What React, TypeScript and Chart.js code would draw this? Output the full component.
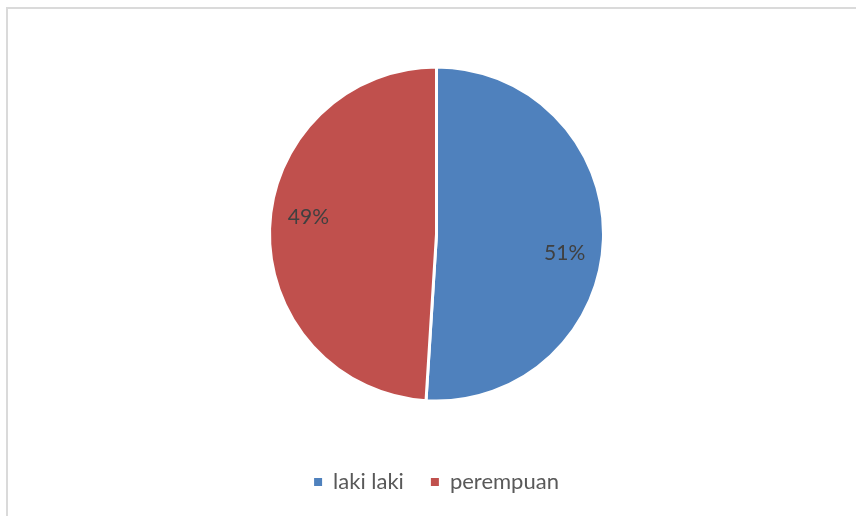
import React, { useEffect, useRef } from "react";
import { Chart, registerables } from "chart.js";

Chart.register(...registerables);

const categories = ["laki laki", "perempuan"];
const values = [51, 49];
const sliceColors = ["#4F81BD", "#C0504D"];

export default function App() {
  const ref = useRef<HTMLCanvasElement | null>(null);

  useEffect(() => {
    if (!ref.current) return;
    const labelPlugin = {
      id: "sliceLabels",
      afterDatasetsDraw(chart: any) {
        const ctx = chart.ctx;
        const meta = chart.getDatasetMeta(0);
        const data = chart.data.datasets[0].data as number[];
        const total = data.reduce((a: number, b: number) => a + b, 0);
        ctx.save();
        ctx.font = "21px Lato";
        ctx.fillStyle = "#404040";
        ctx.textAlign = "center";
        ctx.textBaseline = "middle";
        meta.data.forEach((arc: any, i: number) => {
          const p = arc.getProps(["x", "y", "startAngle", "endAngle", "outerRadius"], true);
          const mid = (p.startAngle + p.endAngle) / 2 + (6.3 * Math.PI) / 180;
          const r = p.outerRadius * 0.775;
          ctx.fillText(
            Math.round((data[i] / total) * 100) + "%",
            p.x + Math.cos(mid) * r,
            p.y + Math.sin(mid) * r + 1
          );
        });
        ctx.restore();
      },
    };

    const defaultLabels = Chart.overrides.pie.plugins.legend.labels.generateLabels;

    const chart = new Chart(ref.current, {
      type: "pie",
      data: {
        labels: categories,
        datasets: [
          {
            data: values,
            backgroundColor: sliceColors,
            borderColor: "#FFFFFF",
            borderWidth: 3,
          },
        ],
      },
      options: {
        responsive: false,
        animation: false,
        layout: { padding: { left: 268, right: 251, top: 24, bottom: 13 } },
        plugins: {
          legend: {
            position: "bottom",
            labels: {
              font: { family: "Lato", size: 22 },
              color: "#595959",
              boxWidth: 8,
              boxHeight: 8,
              padding: 27,
              generateLabels: (chart: any) =>
                defaultLabels(chart).map((item: any) => ({
                  ...item,
                  lineWidth: 0,
                  strokeStyle: item.fillStyle,
                })),
            },
          },
          tooltip: { enabled: false },
        },
      },
      plugins: [labelPlugin],
    });
    return () => chart.destroy();
  }, []);

  return (
    <div
      style={{
        position: "absolute",
        left: 0,
        top: 0,
        width: 856,
        height: 516,
        overflow: "hidden",
        background: "#FFFFFF",
      }}
    >
      <div
        style={{
          position: "absolute",
          left: 6,
          top: 7,
          width: 900,
          height: 600,
          border: "2px solid #DADADA",
          boxSizing: "border-box",
        }}
      />
      <canvas
        ref={ref}
        width={856}
        height={516}
        style={{ position: "absolute", left: 0, top: 0, width: 856, height: 516 }}
      />
    </div>
  );
}
